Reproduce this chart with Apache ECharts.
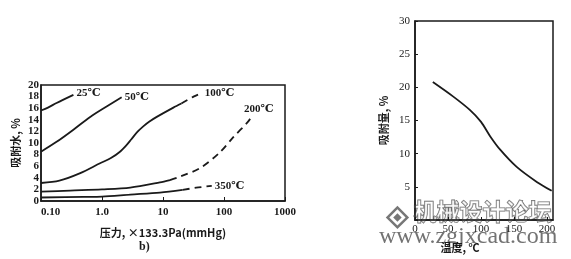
<!DOCTYPE html>
<html><head><meta charset="utf-8">
<script src="https://cdn.jsdelivr.net/npm/echarts@6/dist/echarts.min.js"></script>
<style>html,body{margin:0;padding:0;background:#fff}#c{width:571px;height:259px}</style>
</head><body><div id="c"></div>
<script>
// Left chart: adsorbed water (%) vs pressure (mmHg), log axis
const p25 = [0.1, 0.13, 0.18, 0.34];
const w25 = [15.6, 16.1, 16.9, 18.3];
const p50 = [0.1, 0.18, 0.34, 0.64, 1.19, 2.1];
const w50 = [8.5, 10.2, 12.3, 14.5, 16.3, 17.9];
const p100s = [0.1, 0.2, 0.44, 0.93, 1.4, 1.97, 2.5, 3.0, 3.8, 4.8, 6.0, 7.9, 14.8, 20];
const w100s = [3.1, 3.5, 4.8, 6.5, 7.4, 8.5, 9.6, 10.6, 11.9, 12.9, 13.7, 14.5, 16.1, 16.8];
const p100d = [20, 31.6, 43];
const w100d = [16.8, 18.0, 18.6];
const p200s = [0.1, 0.3, 1, 2.9, 8.9, 13];
const w200s = [1.6, 1.8, 2.0, 2.3, 3.2, 3.6];
const p200d = [13, 19, 41, 86, 142, 240, 288];
const w200d = [3.6, 4.2, 5.7, 8.4, 11.0, 13.5, 14.6];
const p350s = [0.1, 0.5, 1, 2.9, 8.9, 21];
const w350s = [0.6, 0.7, 0.75, 1.1, 1.45, 1.9];
const p350d = [21, 35, 63];
const w350d = [1.9, 2.3, 2.6];
const pressureTickLabels = {0.1: '0.10', 1: '1.0', 10: '10', 100: '100', 1000: '1000'};
// Right chart: adsorption (%) vs temperature
const temps = [27, 58, 83, 100, 114, 129, 154, 185, 207];
const adsorption = [20.8, 18.6, 16.6, 14.8, 12.6, 10.6, 8.0, 5.7, 4.4];

const zip = (a, b) => a.map((v, i) => [v, b[i]]);
const ink = '#1a1a1a';
const serif = '"Liberation Serif","DejaVu Serif",serif';
const cjk = '"Noto Sans CJK SC",sans-serif';
const numLabel = {color: ink, fontFamily: serif, fontSize: 11, fontWeight: 'bold'};

function curve(data, dashed, label, offset) {
  const s = {
    type: 'line', xAxisIndex: 0, yAxisIndex: 0, data: data, smooth: 0.3,
    showSymbol: false, symbol: 'none', silent: true,
    lineStyle: {color: ink, width: 1.8, type: dashed ? [7, 5] : 'solid'}
  };
  if (label) {
    s.endLabel = {show: true, formatter: label, offset: offset || [0, 0],
      color: ink, fontFamily: serif, fontSize: 11, fontWeight: 'bold', distance: 2};
  }
  return s;
}

const chart = echarts.init(document.getElementById('c'), null, {renderer: 'canvas'});
chart.setOption({
  animation: false,
  title: [{text: 'b)', left: 134, top: 236, textStyle: {fontFamily: serif, fontSize: 12, fontWeight: 'bold', color: ink}}],
  grid: [
    {left: 41, right: 286, top: 85, bottom: 58, show: true, borderColor: ink, borderWidth: 1.5},
    {left: 415, right: 18, top: 21, bottom: 39, show: true, borderColor: ink, borderWidth: 1.5}
  ],
  xAxis: [
    {gridIndex: 0, type: 'log', logBase: 10, min: 0.1, max: 1000,
     axisLine: {lineStyle: {color: ink, width: 1.5}},
     axisTick: {inside: true, length: 4, lineStyle: {color: ink}},
     splitLine: {show: false}, minorTick: {show: false},
     axisLabel: Object.assign({}, numLabel, {margin: 6, alignMinLabel: 'left',
       formatter: v => pressureTickLabels[+v.toPrecision(3)] || ''}),
     name: '压力, ×133.3Pa(mmHg)', nameLocation: 'middle', nameGap: 26,
     nameTextStyle: {fontFamily: cjk, fontSize: 11, fontWeight: 'bold', color: ink}},
    {gridIndex: 1, type: 'value', min: 0, max: 209, interval: 50,
     axisLine: {lineStyle: {color: ink, width: 1.5}},
     axisTick: {inside: true, length: 3, lineStyle: {color: ink}},
     splitLine: {show: false},
     axisLabel: Object.assign({}, numLabel, {margin: 4, showMaxLabel: false, fontWeight: 'normal'}),
     name: '温度, ℃', nameLocation: 'middle', nameGap: 22,
     nameTextStyle: {fontFamily: cjk, fontSize: 11, fontWeight: 'bold', color: ink, padding: [0, 48, 0, 0]}}
  ],
  yAxis: [
    {gridIndex: 0, type: 'value', min: 0, max: 20, interval: 2,
     axisLine: {lineStyle: {color: ink, width: 1.5}},
     axisTick: {show: false},
     splitLine: {show: false},
     axisLabel: Object.assign({}, numLabel, {margin: 2}),
     name: '吸附水, %', nameLocation: 'middle', nameGap: 20, nameRotate: 90,
     nameTextStyle: {fontFamily: cjk, fontSize: 11, fontWeight: 'bold', color: ink}},
    {gridIndex: 1, type: 'value', min: 0, max: 30, interval: 5,
     axisLine: {lineStyle: {color: ink, width: 1.5}},
     axisTick: {inside: true, length: 3, lineStyle: {color: ink}},
     splitLine: {show: false},
     axisLabel: Object.assign({}, numLabel, {margin: 5, fontWeight: 'normal',
       formatter: v => v === 0 ? '' : String(v)}),
     name: '吸附量, %', nameLocation: 'middle', nameGap: 26, nameRotate: 90,
     nameTextStyle: {fontFamily: cjk, fontSize: 11, fontWeight: 'bold', color: ink}}
  ],
  series: [
    curve(zip(p25, w25), false, '25℃', [1, -2]),
    curve(zip(p50, w50), false, '50℃', [1, 0]),
    curve(zip(p100s, w100s), false),
    curve(zip(p100d, w100d), true, '100℃', [1, 0]),
    curve(zip(p200s, w200s), false),
    curve(zip(p200d, w200d), true, '200℃', [-10, -7]),
    curve(zip(p350s, w350s), false),
    curve(zip(p350d, w350d), true, '350℃', [1, 0]),
    {type: 'line', xAxisIndex: 1, yAxisIndex: 1, data: zip(temps, adsorption), smooth: 0.3,
     showSymbol: false, symbol: 'none', silent: true, lineStyle: {color: ink, width: 1.8}}
  ],
  graphic: [
    {type: 'group', left: 384, top: 204, silent: true, children: [
      {type: 'rect', shape: {x: -7, y: -7, width: 14, height: 14}, rotation: Math.PI / 4, x: 10, y: 10,
       style: {fill: 'none', stroke: '#777', lineWidth: 2.5}},
      {type: 'rect', shape: {x: -3, y: -3, width: 6, height: 6}, rotation: Math.PI / 4, x: 10, y: 10,
       style: {fill: '#777'}}
    ]},
    {type: 'text', left: 413, top: 199, silent: true,
     style: {text: '机械设计论坛', font: 'bold 23px "Noto Sans CJK SC"', fill: 'rgba(255,255,255,0.6)', stroke: '#666', lineWidth: 1.2}},
    {type: 'text', left: 379, top: 225, silent: true,
     style: {text: 'www.zgjxcad.com', font: '24px "Liberation Serif"', fill: 'rgba(90,90,90,0.85)'}}
  ]
});
</script></body></html>
